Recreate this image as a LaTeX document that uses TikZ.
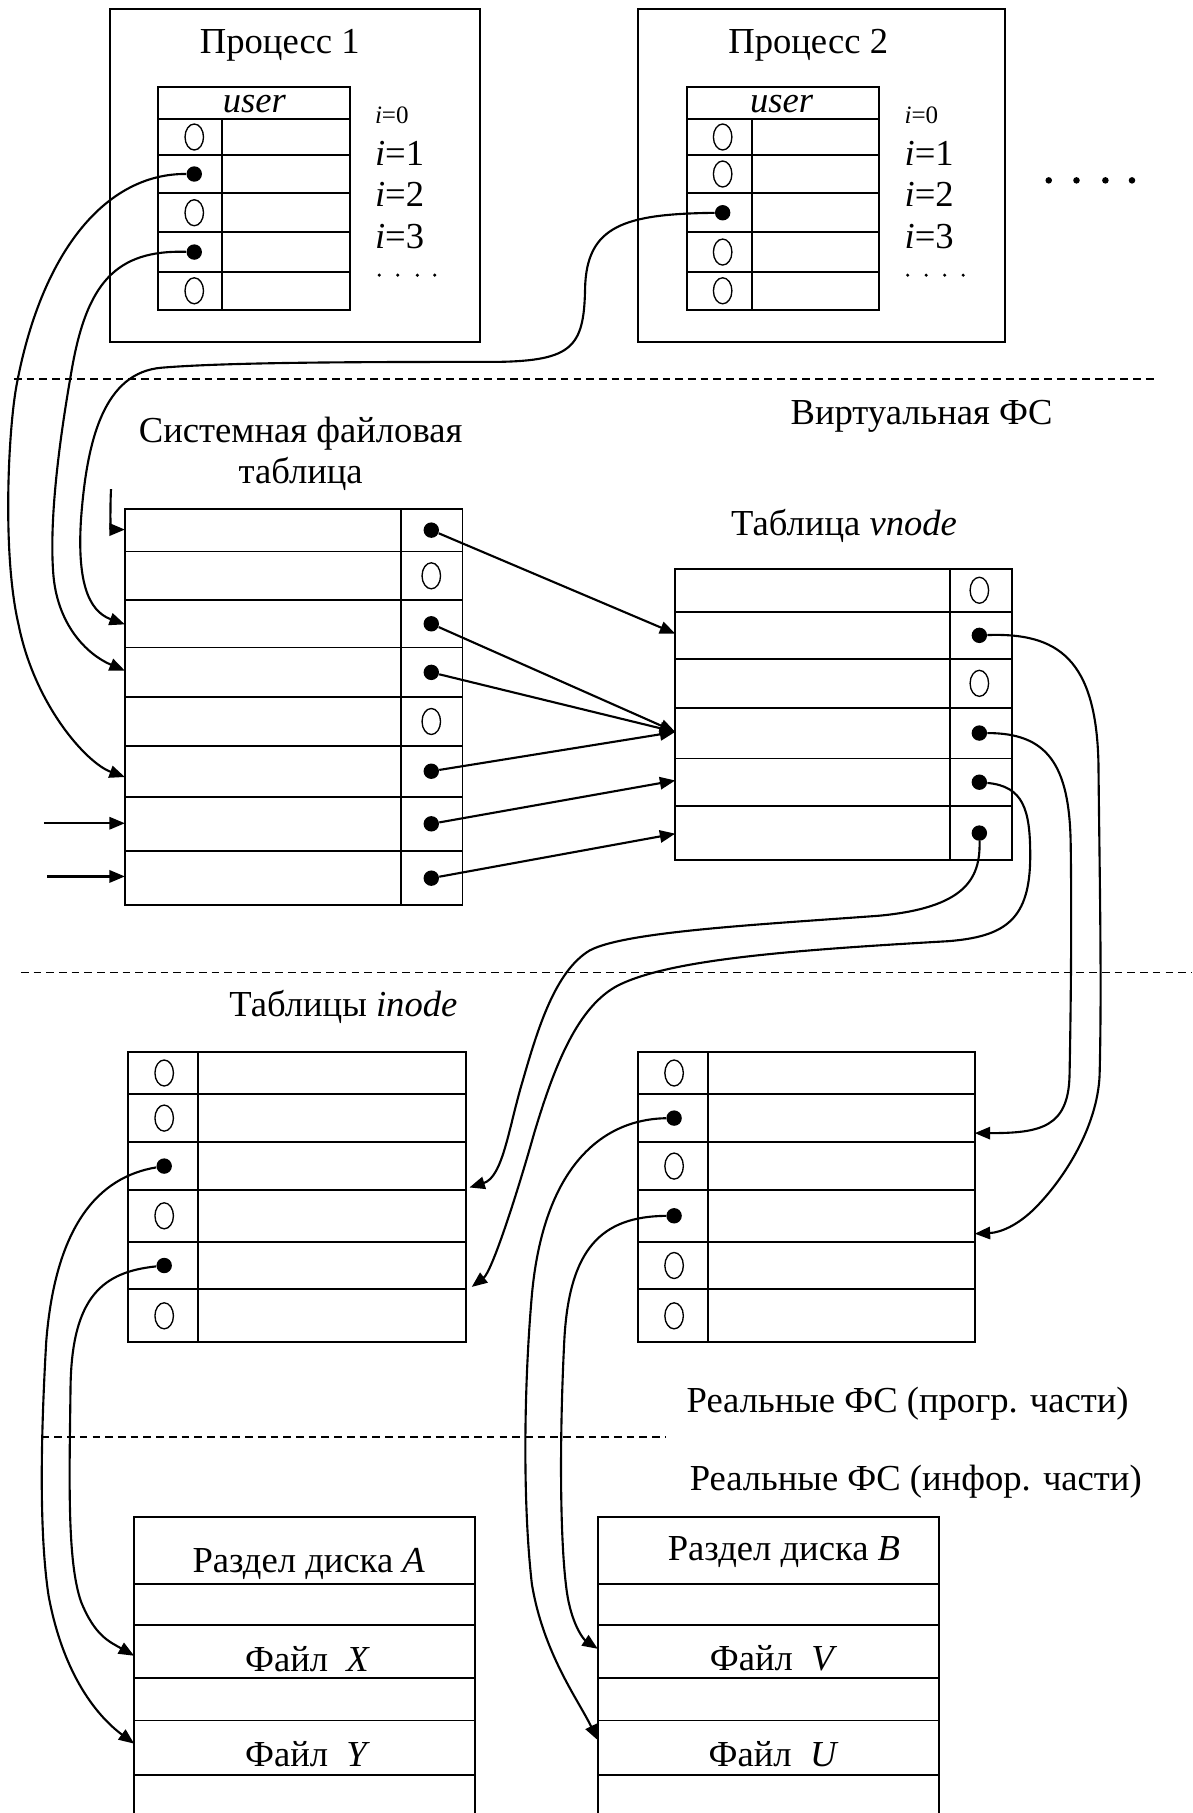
\documentclass[tikz,border=0pt]{standalone}
\usepackage{fontspec}
\setmainfont{Liberation Serif}
\usetikzlibrary{arrows.meta,shapes.geometric}

\begin{document}
\begin{tikzpicture}[x=0.6pt,y=-0.6pt,
  frame/.style={line width=1.1pt},
  grid/.style={line width=1pt},
  link/.style={line width=1.1pt},
  arr/.style={link,-{Triangle[length=8pt,width=6.4pt]}},
  dot/.style={circle,fill=black,inner sep=0pt,minimum size=8pt},
  zero/.style={ellipse,draw,line width=0.7pt,inner sep=0pt,minimum width=9.6pt,minimum height=13.5pt},
  lbl/.style={font=\fontsize{19}{22}\selectfont,inner sep=0pt,anchor=base},
  lblw/.style={font=\fontsize{19}{22}\selectfont,inner sep=0pt,anchor=base west},
  smallw/.style={font=\fontsize{13}{15}\selectfont,inner sep=0pt,anchor=base west},
  sep/.style={line width=0.8pt,dash pattern=on 4pt off 2.6pt},
  pt/.style={circle,fill=black,inner sep=0pt,minimum size=1.8pt},
  bigpt/.style={circle,fill=black,inner sep=0pt,minimum size=3.4pt}
]
\useasboundingbox (0,0) rectangle (1031,1568);

% ---------- process 1 ----------
\draw[frame] (95,8) rectangle (415,296);
\node[lbl] (p1t) at (242,46) {Процесс 1};
\draw[grid] (137,75) rectangle (303,268);
\foreach \y in {103,134,167,201,235} \draw[grid] (137,\y) -- (303,\y);
\draw[grid] (192,103) -- (192,268);
\node[lbl] (p1u) at (220,97) {\itshape user};
\node[zero] (p1z1) at (168,118.5) {};
\node[dot]  (p1d2) at (168,150.5) {};
\node[zero] (p1z3) at (168,184) {};
\node[dot]  (p1d4) at (168,218) {};
\node[zero] (p1z5) at (168,251.5) {};
\node[smallw] (p1i0) at (324,107) {\itshape i\upshape =0};
\node[lblw] (p1i1) at (324,143) {\itshape i\upshape =1};
\node[lblw] (p1i2) at (324,179) {\itshape i\upshape =2};
\node[lblw] (p1i3) at (324,215) {\itshape i\upshape =3};
\foreach \x [count=\k] in {328,344,361,376} \node[pt] (p1e\k) at (\x,238) {};

% ---------- process 2 ----------
\draw[frame] (552,8) rectangle (869,296);
\node[lbl] (p2t) at (699,46) {Процесс 2};
\draw[grid] (594,75) rectangle (760,268);
\foreach \y in {103,134,167,201,235} \draw[grid] (594,\y) -- (760,\y);
\draw[grid] (650,103) -- (650,268);
\node[lbl] (p2u) at (676,97) {\itshape user};
\node[zero] (p2z1) at (625,118.5) {};
\node[zero] (p2z2) at (625,150.5) {};
\node[dot]  (p2d3) at (625,184) {};
\node[zero] (p2z4) at (625,218) {};
\node[zero] (p2z5) at (625,251.5) {};
\node[smallw] (p2i0) at (782,107) {\itshape i\upshape =0};
\node[lblw] (p2i1) at (782,143) {\itshape i\upshape =1};
\node[lblw] (p2i2) at (782,179) {\itshape i\upshape =2};
\node[lblw] (p2i3) at (782,215) {\itshape i\upshape =3};
\foreach \x [count=\k] in {785,801,817,833} \node[pt] (p2e\k) at (\x,238) {};
\foreach \x [count=\k] in {907,931,956,979} \node[bigpt] (more\k) at (\x,156) {};

% ---------- level separators ----------
\draw[sep] (12,328) -- (1000,328);
\draw[sep] (18,841) -- (1031,841);
\draw[sep] (36,1243) -- (576,1243);

% ---------- captions ----------
\node[lbl] (vfs) at (797,367) {Виртуальная ФС};
\node[lbl] (sft1) at (260,383) {Системная файловая};
\node[lbl] (sft2) at (260,418) {таблица};
\node[lbl] (vnt) at (730,463) {Таблица \textit{vnode}};
\node[lbl] (int) at (297,879) {Таблицы \textit{inode}};
\node[lbl] (rfs1) at (785,1222) {Реальные ФС (прогр. части)};
\node[lbl] (rfs2) at (792,1289) {Реальные ФС (инфор. части)};

% ---------- system file table ----------
\draw[grid] (108,440) rectangle (400,783);
\foreach \y in {477,519,560,603,645,689,736} \draw[grid] (108,\y) -- (400,\y);
\draw[grid] (347,440) -- (347,783);
\node[dot]  (s1) at (373,458.5) {};
\node[zero] (s2) at (373,498) {};
\node[dot]  (s3) at (373,539.5) {};
\node[dot]  (s4) at (373,581.5) {};
\node[zero] (s5) at (373,624) {};
\node[dot]  (s6) at (373,667) {};
\node[dot]  (s7) at (373,712.5) {};
\node[dot]  (s8) at (373,759.5) {};
\coordinate (s1in) at (108,458);
\coordinate (s3in) at (108,540);
\coordinate (s4in) at (108,580);
\coordinate (s6in) at (108,672);
\coordinate (s7in) at (108,712);
\coordinate (s8in) at (108,758);
\coordinate (s1src) at (96,423);
\coordinate (s7src) at (38,712);
\coordinate (s8src) at (41,758);

% ---------- vnode table ----------
\draw[grid] (584,492) rectangle (875,744);
\foreach \y in {529,570,612,656,697} \draw[grid] (584,\y) -- (875,\y);
\draw[grid] (822,492) -- (822,744);
\node[zero] (v1) at (847,510.5) {};
\node[dot]  (v2) at (847,549.5) {};
\node[zero] (v3) at (847,591) {};
\node[dot]  (v4) at (847,634) {};
\node[dot]  (v5) at (847,676.5) {};
\node[dot]  (v6) at (847,720.5) {};
\coordinate (v2in) at (584,548);
\coordinate (v4in) at (584,633);
\coordinate (v5in) at (584,675);
\coordinate (v6in) at (584,721);

% ---------- inode tables ----------
\draw[grid] (111,910) rectangle (403,1161);
\foreach \y in {946,988,1029,1074,1115} \draw[grid] (111,\y) -- (403,\y);
\draw[grid] (171,910) -- (171,1161);
\node[zero] (n1z1) at (142,928) {};
\node[zero] (n1z2) at (142,967) {};
\node[dot]  (n1d3) at (142,1008.5) {};
\node[zero] (n1z4) at (142,1051.5) {};
\node[dot]  (n1d5) at (142,1094.5) {};
\node[zero] (n1z6) at (142,1138) {};
\coordinate (n1in3) at (406,1027);
\coordinate (n1in5) at (408,1113);

\draw[grid] (552,910) rectangle (843,1161);
\foreach \y in {946,988,1029,1074,1115} \draw[grid] (552,\y) -- (843,\y);
\draw[grid] (612,910) -- (612,1161);
\node[zero] (n2z1) at (583,928) {};
\node[dot]  (n2d2) at (583,967) {};
\node[zero] (n2z3) at (583,1008.5) {};
\node[dot]  (n2d4) at (583,1051.5) {};
\node[zero] (n2z5) at (583,1094.5) {};
\node[zero] (n2z6) at (583,1138) {};
\coordinate (n2in2) at (843,980);
\coordinate (n2in4) at (843,1067);

% ---------- disk partitions ----------
\draw[grid] (116,1568) -- (116,1312) -- (411,1312) -- (411,1568);
\foreach \y in {1370,1405,1451,1488,1535} \draw[grid] (116,\y) -- (411,\y);
\node[lbl] (da) at (267,1360) {Раздел диска \textit{A}};
\node[lbl] (fx) at (266,1446) {Файл\ \ \textit{X}};
\node[lbl] (fy) at (266,1528) {Файл\ \ \textit{Y}};
\coordinate (aX) at (116,1432);
\coordinate (aY) at (116,1508);

\draw[grid] (517,1568) -- (517,1312) -- (812,1312) -- (812,1568);
\foreach \y in {1370,1405,1451,1488,1535} \draw[grid] (517,\y) -- (812,\y);
\node[lbl] (db) at (678,1350) {Раздел диска \textit{B}};
\node[lbl] (fv) at (669,1445) {Файл\ \ \textit{V}};
\node[lbl] (fu) at (669,1528) {Файл\ \ \textit{U}};
\coordinate (bV) at (517,1426);
\coordinate (bU) at (517,1505);

% ---------- user descriptors -> system file table ----------
\draw[arr] (p1d2) .. controls (90,150) and (35,220) .. (14,335)
  .. controls (7,375) and (2,480) .. (16,540)
  .. controls (30,610) and (75,660) .. (s6in);
\draw[arr] (p1d4) .. controls (100,216) and (75,245) .. (62,320)
  .. controls (55,360) and (42,440) .. (46,495)
  .. controls (49,540) and (75,566) .. (s4in);
\draw[arr] (p2d3) .. controls (540,185) and (507,195) .. (506,250)
  .. controls (505,300) and (495,312) .. (430,313)
  .. controls (330,313) and (200,313) .. (140,318)
  .. controls (90,322) and (75,380) .. (70,450)
  .. controls (67,500) and (75,528) .. (s3in);
\draw[arr] (s1src) .. controls (95,445) and (96,458) .. (s1in);
\draw[arr] (s7src) -- (s7in);
\draw[arr] (s8src) -- (s8in);

% ---------- system file table -> vnode ----------
\draw[arr] (s1) -- (v2in);
\draw[arr] (s3) -- (v4in);
\draw[arr] (s4) -- (v4in);
\draw[arr] (s6) -- (v4in);
\draw[arr] (s7) -- (v5in);
\draw[arr] (s8) -- (v6in);

% ---------- vnode -> inode ----------
\draw[arr] (v2) .. controls (915,547) and (948,570) .. (950,660)
  .. controls (951,760) and (953,850) .. (951,930)
  .. controls (949,975) and (920,1020) .. (895,1045)
  .. controls (880,1060) and (865,1066) .. (n2in4);
\draw[arr] (v4) .. controls (905,634) and (925,660) .. (926,730)
  .. controls (927,800) and (926,880) .. (925,930)
  .. controls (924,975) and (900,980) .. (n2in2);
\draw[arr] (v5) .. controls (885,680) and (891,700) .. (891,740)
  .. controls (891,795) and (870,810) .. (820,814)
  .. controls (680,822) and (580,830) .. (535,852)
  .. controls (500,870) and (480,920) .. (462,980)
  .. controls (445,1040) and (425,1100) .. (n1in5);
\draw[arr] (v6) .. controls (848,760) and (835,785) .. (760,792)
  .. controls (650,800) and (540,806) .. (510,822)
  .. controls (480,840) and (465,890) .. (452,935)
  .. controls (440,975) and (435,1018) .. (n1in3);

% ---------- inode -> disk blocks ----------
\draw[arr] (n1d3) .. controls (85,1018) and (48,1060) .. (40,1160)
  .. controls (36,1230) and (33,1320) .. (42,1380)
  .. controls (55,1450) and (85,1485) .. (aY);
\draw[arr] (n1d5) .. controls (90,1100) and (62,1120) .. (61,1200)
  .. controls (60,1280) and (58,1350) .. (70,1385)
  .. controls (82,1415) and (95,1420) .. (aX);
\draw[arr] (n2d2) .. controls (520,968) and (470,1010) .. (460,1120)
  .. controls (453,1200) and (452,1300) .. (460,1370)
  .. controls (470,1430) and (500,1470) .. (bU);
\draw[arr] (n2d4) .. controls (520,1052) and (492,1080) .. (488,1160)
  .. controls (484,1240) and (484,1330) .. (490,1375)
  .. controls (494,1405) and (505,1418) .. (bV);
\end{tikzpicture}
\end{document}
